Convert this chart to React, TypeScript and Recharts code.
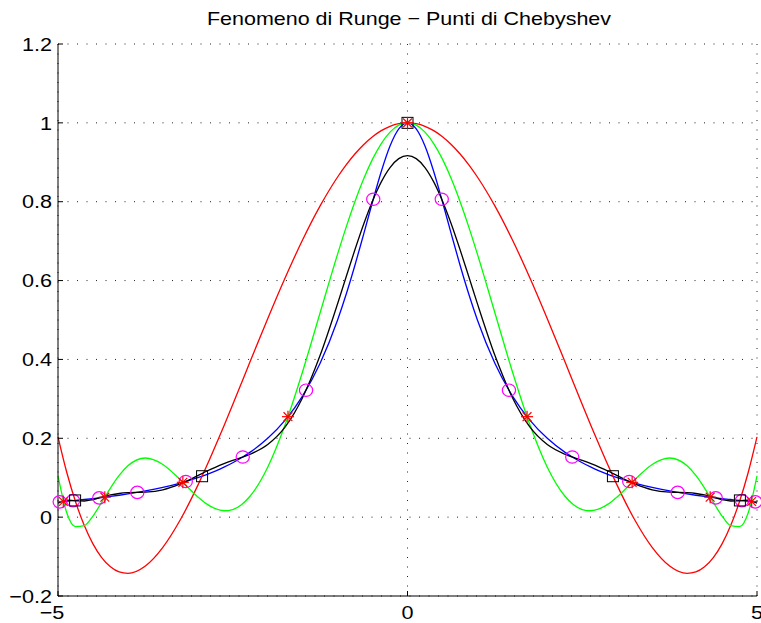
import React from 'react';
import { ComposedChart, Line, Scatter, XAxis, YAxis, CartesianGrid } from 'recharts';

// sample abscissae (denser near the ends, the peak and the green dip)
const xGrid = [
  -5, -4.875, -4.75, -4.625, -4.5, -4.375, -4.25, -4.125, -4, -3.75, -3.5, -3.25, -3, -2.875, -2.75, -2.625,
  -2.5, -2.375, -2.25, -2, -1.75, -1.5, -1.25, -1, -0.875, -0.75, -0.625, -0.5, -0.375, -0.25, -0.125,
  0,
  0.125, 0.25, 0.375, 0.5, 0.625, 0.75, 0.875, 1, 1.25, 1.5, 1.75, 2, 2.25, 2.375, 2.5,
  2.625, 2.75, 2.875, 3, 3.25, 3.5, 3.75, 4, 4.125, 4.25, 4.375, 4.5, 4.625, 4.75, 4.875, 5,
];

// Runge function (blue)
const runge = [
  0.0385, 0.0404, 0.0424, 0.0447, 0.0471, 0.0497, 0.0525, 0.0555, 0.0588, 0.0664, 0.0755, 0.0865, 0.1000, 0.1079, 0.1168, 0.1267,
  0.1379, 0.1506, 0.1649, 0.2000, 0.2462, 0.3077, 0.3902, 0.5000, 0.5664, 0.6400, 0.7191, 0.8000, 0.8767, 0.9412, 0.9846,
  1.0000,
  0.9846, 0.9412, 0.8767, 0.8000, 0.7191, 0.6400, 0.5664, 0.5000, 0.3902, 0.3077, 0.2462, 0.2000, 0.1649, 0.1506, 0.1379,
  0.1267, 0.1168, 0.1079, 0.1000, 0.0865, 0.0755, 0.0664, 0.0588, 0.0555, 0.0525, 0.0497, 0.0471, 0.0447, 0.0424, 0.0404, 0.0385,
];

// interpolant on 5 nodes (red)
const p4 = [
  0.2035, 0.1139, 0.0395, -0.0208, -0.0679, -0.1027, -0.1261, -0.1391, -0.1426, -0.1239, -0.0766, -0.0067, 0.0805, 0.1288, 0.1796, 0.2321,
  0.2859, 0.3404, 0.3952, 0.5034, 0.6072, 0.7034, 0.7893, 0.8627, 0.8941, 0.9217, 0.9453, 0.9648, 0.9802, 0.9912, 0.9978,
  1.0000,
  0.9978, 0.9912, 0.9802, 0.9648, 0.9453, 0.9217, 0.8941, 0.8627, 0.7893, 0.7034, 0.6072, 0.5034, 0.3952, 0.3404, 0.2859,
  0.2321, 0.1796, 0.1288, 0.0805, -0.0067, -0.0766, -0.1239, -0.1426, -0.1391, -0.1261, -0.1027, -0.0679, -0.0208, 0.0395, 0.1139, 0.2035,
];

// interpolant on 9 nodes (green)
const p8 = [
  0.1046, 0.0112, -0.0242, -0.0217, 0.0028, 0.0374, 0.0737, 0.1058, 0.1302, 0.1500, 0.1337, 0.0947, 0.0513, 0.0336, 0.0214, 0.0162,
  0.0193, 0.0316, 0.0536, 0.1266, 0.2348, 0.3695, 0.5183, 0.6671, 0.7369, 0.8014, 0.8589, 0.9080, 0.9475, 0.9764, 0.9941,
  1.0000,
  0.9941, 0.9764, 0.9475, 0.9080, 0.8589, 0.8014, 0.7369, 0.6671, 0.5183, 0.3695, 0.2348, 0.1266, 0.0536, 0.0316, 0.0193,
  0.0162, 0.0214, 0.0336, 0.0513, 0.0947, 0.1337, 0.1500, 0.1302, 0.1058, 0.0737, 0.0374, 0.0028, -0.0217, -0.0242, 0.0112, 0.1046,
];

// interpolant on 16 nodes (black)
const p15 = [
  0.0353, 0.0434, 0.0412, 0.0410, 0.0447, 0.0506, 0.0562, 0.0600, 0.0620, 0.0634, 0.0693, 0.0842, 0.1054, 0.1163, 0.1264, 0.1355,
  0.1437, 0.1514, 0.1598, 0.1841, 0.2288, 0.3036, 0.4104, 0.5414, 0.6109, 0.6795, 0.7443, 0.8021, 0.8504, 0.8867, 0.9092,
  0.9169,
  0.9092, 0.8867, 0.8504, 0.8021, 0.7443, 0.6795, 0.6109, 0.5414, 0.4104, 0.3036, 0.2288, 0.1841, 0.1598, 0.1514, 0.1437,
  0.1355, 0.1264, 0.1163, 0.1054, 0.0842, 0.0693, 0.0634, 0.0620, 0.0600, 0.0562, 0.0506, 0.0447, 0.0410, 0.0412, 0.0434, 0.0353,
];

// Chebyshev nodes
const circleX = [-4.9759, -4.7847, -4.4096, -3.8651, -3.172, -2.357, -1.4514, -0.4901, 0.4901, 1.4514, 2.357, 3.172, 3.8651, 4.4096, 4.7847, 4.9759];
const circleY = [0.0388, 0.0419, 0.0489, 0.0627, 0.0904, 0.1525, 0.3219, 0.8063, 0.8063, 0.3219, 0.1525, 0.0904, 0.0627, 0.0489, 0.0419, 0.0388];
const starX = [-4.924, -4.3301, -3.2139, -1.7101, 0, 1.7101, 3.2139, 4.3301, 4.924];
const starY = [0.0396, 0.0506, 0.0883, 0.2548, 1, 0.2548, 0.0883, 0.0506, 0.0396];
const squareX = [-4.7553, -2.9389, 0, 2.9389, 4.7553];
const squareY = [0.0424, 0.1038, 1, 0.1038, 0.0424];

const xTicks = [-5, 0, 5];
const xTickLabels = ['\u22125', '0', '5'];
const yTicks = [-0.2, 0, 0.2, 0.4, 0.6, 0.8, 1, 1.2];
const yTickLabels = ['\u22120.2', '0', '0.2', '0.4', '0.6', '0.8', '1', '1.2'];

const title = 'Fenomeno di Runge \u2212 Punti di Chebyshev';

const FONT = "'Liberation Sans', Arial, Helvetica, sans-serif";
const FONT_SIZE = 18.5;
const STRETCH = 1.17;

const curveRows = xGrid.map((x, i) => ({ x, runge: runge[i], p4: p4[i], p8: p8[i], p15: p15[i] }));
const circlePts = circleX.map((x, i) => ({ x, y: circleY[i] }));
const starPts = starX.map((x, i) => ({ x, y: starY[i] }));
const squarePts = squareX.map((x, i) => ({ x, y: squareY[i] }));

const labelFor = (ticks: number[], labels: string[], v: number) => {
  const i = ticks.findIndex((t) => Math.abs(t - v) < 1e-9);
  return i >= 0 ? labels[i] : String(v);
};

const YTick = (props: any) => {
  const { x, y, payload } = props;
  return (
    <g>
      <line x1={x + 6} x2={x + 11} y1={y} y2={y} stroke="#000" strokeWidth={1} />
      <text
        transform={`translate(${x},${y}) scale(${STRETCH},1)`}
        textAnchor="end"
        dy="0.36em"
        fontSize={FONT_SIZE}
        fontFamily={FONT}
        fill="#000"
      >
        {labelFor(yTicks, yTickLabels, payload.value)}
      </text>
    </g>
  );
};

const XTick = (props: any) => {
  const { x, y, payload } = props;
  // negative labels sit a little left of their tick
  const shift = payload.value < 0 ? -6 : 0;
  return (
    <g>
      <line x1={x} x2={x} y1={y - 10} y2={y - 15} stroke="#000" strokeWidth={1} />
      <text
        transform={`translate(${x + shift},${y}) scale(${STRETCH},1)`}
        textAnchor="middle"
        dy="0.71em"
        fontSize={FONT_SIZE}
        fontFamily={FONT}
        fill="#000"
      >
        {labelFor(xTicks, xTickLabels, payload.value)}
      </text>
    </g>
  );
};

const Ring = (props: any) => (
  <ellipse cx={props.cx} cy={props.cy} rx={6.6} ry={6.2} fill="none" stroke="#ff00ff" strokeWidth={1.2} />
);

const Box = (props: any) => (
  <rect x={props.cx - 5.5} y={props.cy - 5.5} width={11} height={11} fill="none" stroke="#000" strokeWidth={1} />
);

const Asterisk = (props: any) => {
  const { cx, cy } = props;
  const d = 4.4;
  return (
    <g stroke="#ff0000" strokeWidth={1.2}>
      <line x1={cx - 6} x2={cx + 6} y1={cy} y2={cy} />
      <line x1={cx} x2={cx} y1={cy - 6} y2={cy + 6} />
      <line x1={cx - d} x2={cx + d} y1={cy - d} y2={cy + d} />
      <line x1={cx - d} x2={cx + d} y1={cy + d} y2={cy - d} />
    </g>
  );
};

export default function App() {
  return (
    <div style={{ position: 'absolute', left: 0, top: 0, width: 761, height: 623, background: '#fff' }}>
      <ComposedChart width={761} height={623} data={curveRows} margin={{ top: 44, right: 4, bottom: 0, left: 0 }}>
        <CartesianGrid stroke="#222" strokeWidth={1} strokeDasharray="1 8.5" />
        <XAxis
          type="number"
          dataKey="x"
          domain={[-5, 5]}
          ticks={xTicks}
          height={27}
          tickSize={0}
          tickMargin={10}
          axisLine={{ stroke: '#000', strokeWidth: 1 }}
          tickLine={false}
          tick={(p: any) => <XTick {...p} />}
          interval={0}
        />
        <YAxis
          type="number"
          domain={[-0.2, 1.2]}
          ticks={yTicks}
          width={58}
          tickSize={0}
          tickMargin={6}
          axisLine={{ stroke: '#000', strokeWidth: 1 }}
          tickLine={false}
          tick={(p: any) => <YTick {...p} />}
          interval={0}
        />
        <Line type="monotone" dataKey="runge" stroke="#0000ff" strokeWidth={1.3} dot={false} isAnimationActive={false} />
        <Line type="monotone" dataKey="p4" stroke="#ff0000" strokeWidth={1.3} dot={false} isAnimationActive={false} />
        <Line type="monotone" dataKey="p8" stroke="#00ff00" strokeWidth={1.3} dot={false} isAnimationActive={false} />
        <Line type="monotone" dataKey="p15" stroke="#000000" strokeWidth={1.3} dot={false} isAnimationActive={false} />
        <Scatter data={circlePts} dataKey="y" shape={(p: any) => <Ring {...p} />} isAnimationActive={false} />
        <Scatter data={squarePts} dataKey="y" shape={(p: any) => <Box {...p} />} isAnimationActive={false} />
        <Scatter data={starPts} dataKey="y" shape={(p: any) => <Asterisk {...p} />} isAnimationActive={false} />
      </ComposedChart>
      <svg width={761} height={40} style={{ position: 'absolute', left: 0, top: 0, pointerEvents: 'none' }}>
        <text
          x={409}
          y={25}
          textAnchor="middle"
          textLength={404}
          lengthAdjust="spacingAndGlyphs"
          fontSize={FONT_SIZE}
          fontFamily={FONT}
          fill="#000"
        >
          {title}
        </text>
      </svg>
    </div>
  );
}
